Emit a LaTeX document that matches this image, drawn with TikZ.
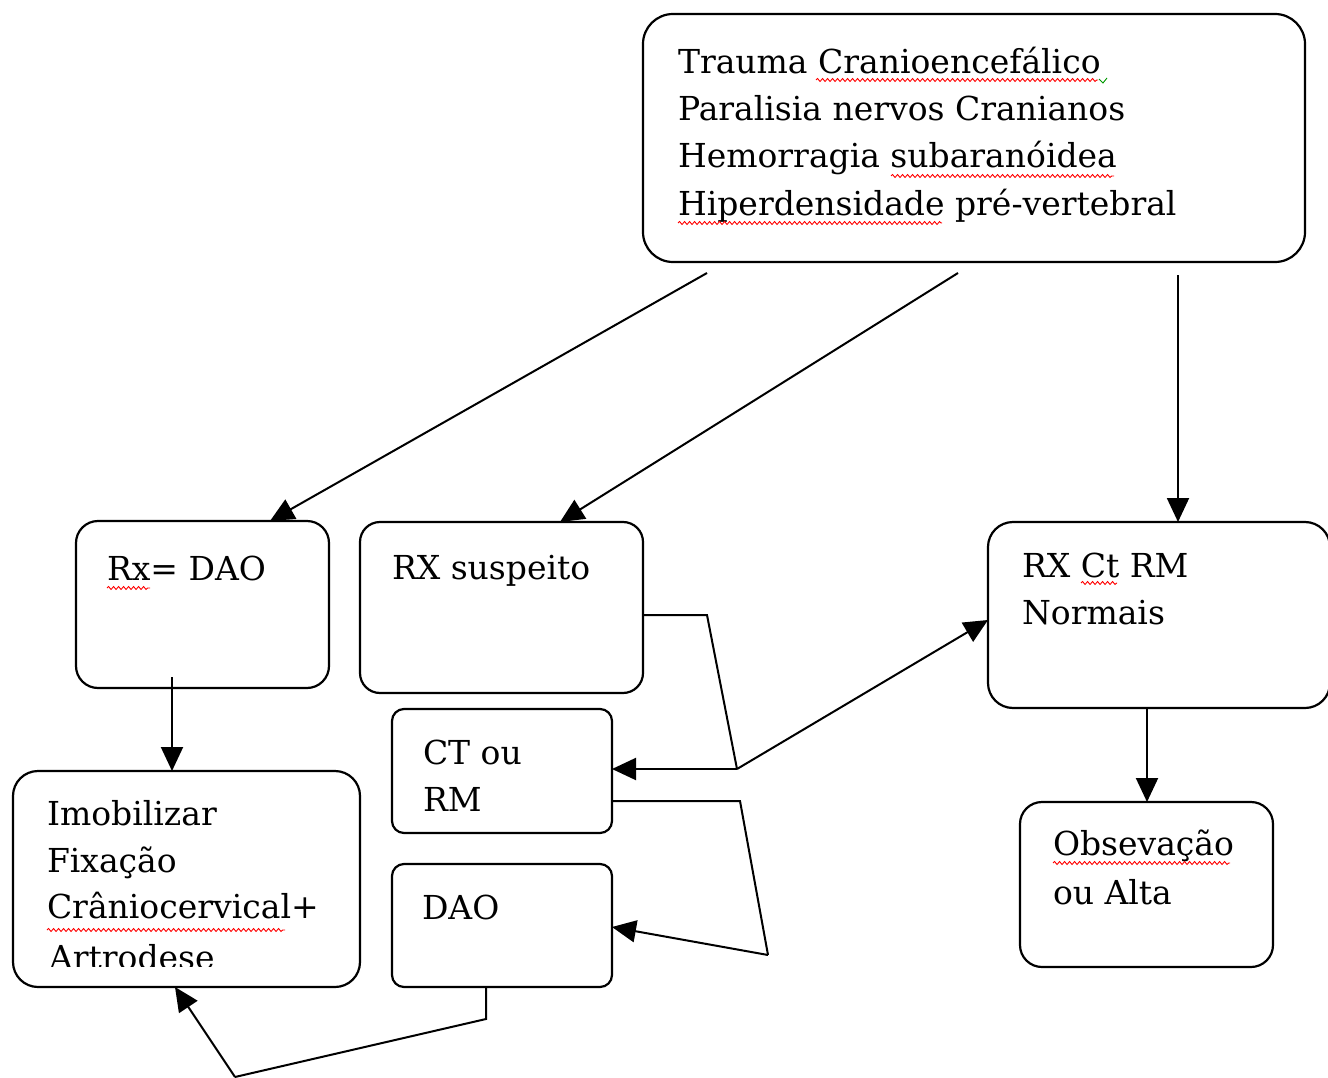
\documentclass[tikz,border=0pt]{standalone}
\usepackage{fontspec}
\setmainfont{DejaVu Serif}
\usetikzlibrary{arrows.meta,calc,decorations.pathmorphing}
\begin{document}
\begin{tikzpicture}[x=1pt,y=-1pt,
  box/.style={draw, line width=2.2pt, rounded corners=#1, inner sep=0pt, outer sep=0pt, anchor=north west},
  box/.default=22pt,
  txt/.style={anchor=base west, inner sep=0pt, outer sep=0pt, font=\fontsize{33}{40}\selectfont},
  conn/.style={line width=2pt},
  arr/.style={line width=2pt, -{Triangle[length=24pt,width=22pt]}},
  squig/.style={red, line width=0.9pt, decorate, decoration={snake, segment length=5pt, amplitude=1.5pt}}]
\fill[white] (0,0) rectangle (1328,1078);
\useasboundingbox (0,0) rectangle (1328,1078);

% boxes
\node[box=30pt, minimum width=662pt, minimum height=248pt] (top) at (643,14) {};
\node[box=22pt, minimum width=253pt, minimum height=167pt] (rxdao) at (76,521) {};
\node[box=20pt, minimum width=283pt, minimum height=171pt] (rxsusp) at (360,522) {};
\node[box=25pt, minimum width=342pt, minimum height=186pt] (normais) at (988,522) {};
\node[box=25pt, minimum width=347pt, minimum height=216pt] (imob) at (13,771) {};
\node[box=12pt, minimum width=220pt, minimum height=124pt] (ctrm) at (392,709) {};
\node[box=12pt, minimum width=220pt, minimum height=123pt] (dao) at (392,864) {};
\node[box=22pt, minimum width=253pt, minimum height=165pt] (obs) at (1020,802) {};

% texts
\node[txt] (t1) at (678,74) {Trauma Cranioencefálico};
\node[txt] (t2) at (678,121) {Paralisia nervos Cranianos};
\node[txt] (t3) at (678,168) {Hemorragia subaranóidea};
\node[txt] (t4) at (678,215) {Hiperdensidade pré-vertebral};
\node[txt] (r1) at (107,580) {Rx= DAO};
\node[txt] (s1t) at (392,579) {RX suspeito};
\node[txt] (n1) at (1022,577) {RX Ct RM};
\node[txt] (n2) at (1022,624) {Normais};
\node[txt] (c1) at (423,764) {CT ou};
\node[txt] (c2) at (423,811) {RM};
\node[txt] (d1) at (422,919) {DAO};
\node[txt] (i1) at (47,825) {Imobilizar};
\node[txt] (i2) at (47,872) {Fixação};
\node[txt] (i3) at (47,918) {Crâniocervical+};
\begin{scope}
\clip (0,0) rectangle (1328,966);
\node[txt] (i4) at (49,969) {Artrodese};
\end{scope}
\node[txt] (o1) at (1053,855) {Obsevação};
\node[txt] (o2) at (1053,904) {ou Alta};

% spelling squiggles
\draw[squig] (816,80) -- (1098,80);
\draw[green!60!black, line width=0.9pt] (1099,79) -- (1103,83) -- (1107,78);
\draw[squig] (891,176) -- (1114,176);
\draw[squig] (678,223) -- (942,223);
\draw[squig] (107,588) -- (150,588);
\draw[squig] (1081,583) -- (1117,583);
\draw[squig] (47,930) -- (285,930);
\draw[squig] (1053,863) -- (1230,863);

% connectors
\coordinate (s1) at (707,273);
\coordinate (s2) at (958,273);
\coordinate (s3) at (1178,275);
\coordinate (s4) at (172,677);
\coordinate (j1) at (737,769);
\coordinate (j2) at (768,955);
\coordinate (j3) at (235,1077);

\draw[arr] (s1) -- ($(rxdao.north west)+(194,0)$);
\draw[arr] (s2) -- ($(rxsusp.north west)+(200,0)$);
\draw[arr] (s3) -- (normais.north -| s3);
\draw[arr] (s4) -- (imob.north -| s4);
\draw[conn] ($(rxsusp.north east)+(0,93)$) -- (707,615) -- (j1);
\draw[arr] (j1) -- (ctrm.east |- j1);
\draw[arr] (j1) -- ($(normais.north west)+(0,98)$);
\draw[conn] ($(ctrm.north east)+(0,92)$) -- (740,801) -- (j2);
\draw[arr] (j2) -- ($(dao.north east)+(0,63)$);
\draw[conn] ($(dao.south west)+(94,0)$) -- (486,1019) -- (j3);
\draw[arr] (j3) -- ($(imob.south west)+(162,0)$);
\draw[arr] ($(normais.south west)+(159,0)$) -- ($(obs.north west)+(127,0)$);
\end{tikzpicture}
\end{document}
